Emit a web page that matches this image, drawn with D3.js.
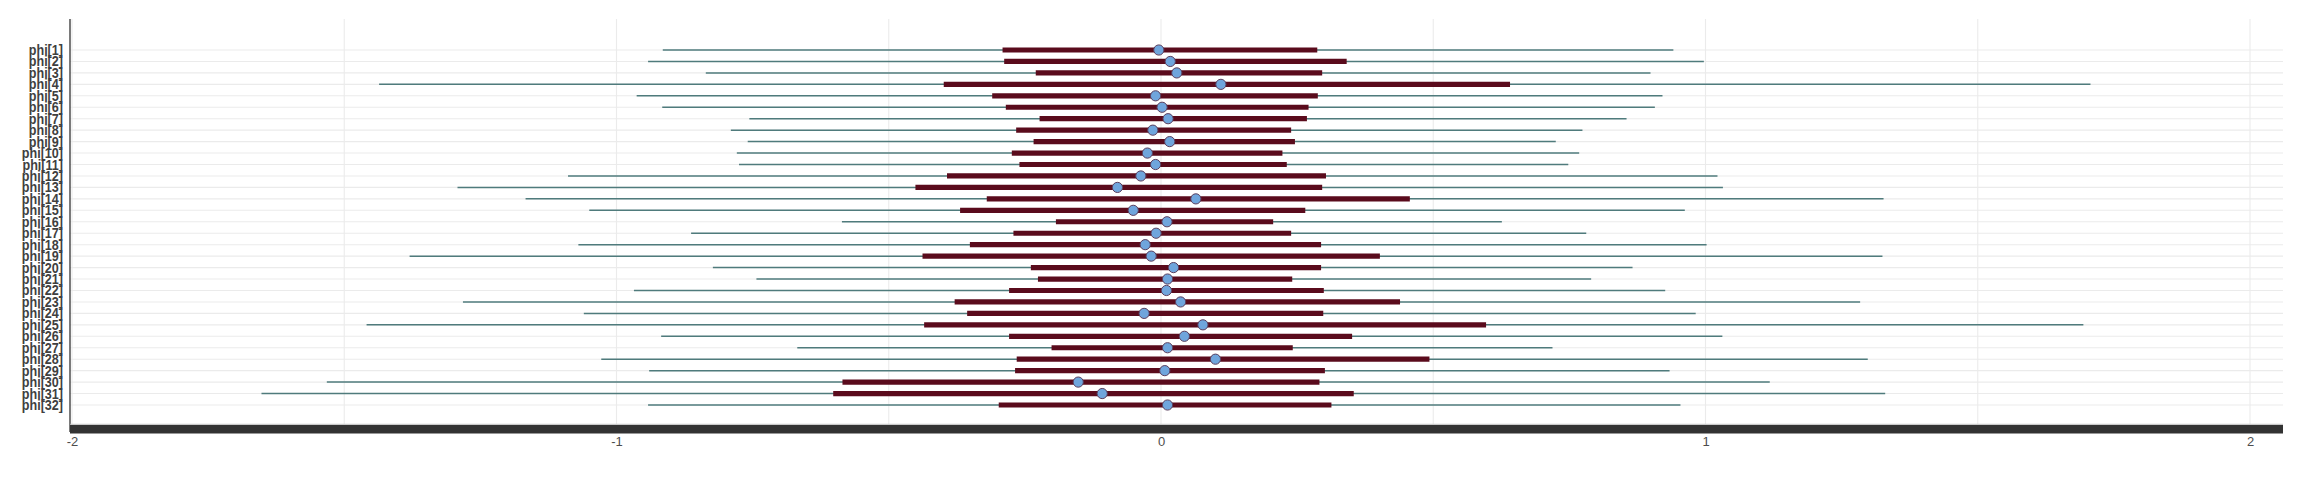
<!DOCTYPE html>
<html>
<head>
<meta charset="utf-8">
<script src="https://cdn.jsdelivr.net/npm/d3@7"></script>
<style>
  html, body { margin: 0; padding: 0; background: #ffffff; }
  svg { display: block; }
</style>
</head>
<body>
<svg id="chart" width="2321" height="487"></svg>
<script>
// ---- data ----
const params = ["phi[1]","phi[2]","phi[3]","phi[4]","phi[5]","phi[6]","phi[7]","phi[8]","phi[9]","phi[10]",
  "phi[11]","phi[12]","phi[13]","phi[14]","phi[15]","phi[16]","phi[17]","phi[18]","phi[19]","phi[20]",
  "phi[21]","phi[22]","phi[23]","phi[24]","phi[25]","phi[26]","phi[27]","phi[28]","phi[29]","phi[30]",
  "phi[31]","phi[32]"];
const outerLow = [-0.915,-0.942,-0.836,-1.436,-0.963,-0.916,-0.756,-0.790,-0.759,-0.779,-0.775,-1.089,-1.292,-1.167,-1.050,-0.586,
  -0.863,-1.070,-1.380,-0.823,-0.743,-0.968,-1.282,-1.060,-1.459,-0.918,-0.668,-1.028,-0.940,-1.532,-1.652,-0.942];
const innerLow = [-0.291,-0.288,-0.230,-0.399,-0.310,-0.285,-0.223,-0.266,-0.234,-0.274,-0.260,-0.393,-0.451,-0.320,-0.369,-0.193,
  -0.271,-0.351,-0.438,-0.239,-0.226,-0.279,-0.379,-0.356,-0.435,-0.279,-0.201,-0.265,-0.268,-0.585,-0.602,-0.298];
const medians = [-0.004,0.017,0.029,0.110,-0.010,0.002,0.013,-0.015,0.016,-0.025,-0.010,-0.037,-0.080,0.064,-0.051,0.011,
  -0.009,-0.029,-0.018,0.023,0.012,0.010,0.036,-0.031,0.077,0.043,0.012,0.100,0.007,-0.152,-0.108,0.012];
const innerHigh = [0.287,0.341,0.296,0.641,0.288,0.271,0.268,0.239,0.246,0.223,0.231,0.303,0.296,0.457,0.265,0.206,
  0.239,0.294,0.402,0.294,0.241,0.299,0.439,0.298,0.597,0.351,0.242,0.493,0.301,0.291,0.354,0.313];
const outerHigh = [0.941,0.997,0.899,1.707,0.921,0.907,0.855,0.774,0.725,0.768,0.748,1.022,1.032,1.327,0.962,0.626,
  0.781,1.002,1.325,0.866,0.790,0.926,1.284,0.982,1.694,1.031,0.719,1.298,0.934,1.118,1.330,0.954];
const xTicks = [-2, -1, 0, 1, 2];
const xGrid = [-2, -1.5, -1, -0.5, 0, 0.5, 1, 1.5, 2];

// ---- layout ----
const panel = { left: 70, right: 2283, top: 19, bottom: 424 };
const svg = d3.select("#chart");

const x = d3.scaleLinear().domain([-2, 2]).range([72, 2250]);
const y = d3.scalePoint().domain(params).range([50, 405]);

const rows = params.map((p, i) => ({
  p, ll: outerLow[i], l: innerLow[i], m: medians[i], h: innerHigh[i], hh: outerHigh[i]
}));

// grid
const grid = svg.append("g");
grid.selectAll("line.hg").data(params).join("line")
  .attr("x1", panel.left).attr("x2", panel.right)
  .attr("y1", d => y(d)).attr("y2", d => y(d))
  .attr("stroke", "#ebebeb").attr("stroke-width", 1.1);
grid.selectAll("line.vg").data(xGrid).join("line")
  .attr("x1", d => x(d)).attr("x2", d => x(d))
  .attr("y1", panel.top).attr("y2", panel.bottom)
  .attr("stroke", "#ebebeb").attr("stroke-width", 1.1);

// outer intervals
svg.append("g").selectAll("line").data(rows).join("line")
  .attr("x1", d => x(d.ll)).attr("x2", d => x(d.hh))
  .attr("y1", d => y(d.p)).attr("y2", d => y(d.p))
  .attr("stroke", "#4f7b7c").attr("stroke-width", 1.5);

// inner intervals
svg.append("g").selectAll("line").data(rows).join("line")
  .attr("x1", d => x(d.l)).attr("x2", d => x(d.h))
  .attr("y1", d => y(d.p)).attr("y2", d => y(d.p))
  .attr("stroke", "#5a0b1c").attr("stroke-width", 5.2);

// points
svg.append("g").selectAll("circle").data(rows).join("circle")
  .attr("cx", d => x(d.m)).attr("cy", d => y(d.p)).attr("r", 5.1)
  .attr("fill", "#6fa5dc").attr("stroke", "#5b3f5e").attr("stroke-width", 1);

// left axis line
svg.append("line")
  .attr("x1", panel.left).attr("x2", panel.left)
  .attr("y1", panel.top).attr("y2", 432)
  .attr("stroke", "#333333").attr("stroke-width", 1.3);

// bottom axis bar
svg.append("line")
  .attr("x1", panel.left).attr("x2", panel.right)
  .attr("y1", 424.3).attr("y2", 424.3)
  .attr("stroke", "#bdbdbd").attr("stroke-width", 1);
svg.append("rect")
  .attr("x", panel.left).attr("y", 425)
  .attr("width", panel.right - panel.left).attr("height", 8.5)
  .attr("fill", "#333333");

// x axis labels
const xAxis = svg.append("g").attr("transform", "translate(0,433)")
  .call(d3.axisBottom(x).tickValues(xTicks).tickSize(0).tickPadding(4).tickFormat(d => String(d)));
xAxis.select(".domain").remove();
xAxis.selectAll("text")
  .attr("font-family", "'Liberation Sans', Arial, sans-serif")
  .attr("font-size", 13).attr("fill", "#4d4d4d");

// y axis labels
const yAxis = svg.append("g").attr("transform", `translate(${panel.left},0)`)
  .call(d3.axisLeft(y).tickSize(0).tickPadding(7));
yAxis.select(".domain").remove();
yAxis.selectAll("text")
  .attr("font-family", "'Liberation Sans', Arial, sans-serif")
  .attr("font-size", 14).attr("font-weight", "bold").attr("fill", "#3f3f3f")
  .attr("x", -7 / 0.9)
  .attr("transform", "scale(0.9,1)");
</script>
</body>
</html>
